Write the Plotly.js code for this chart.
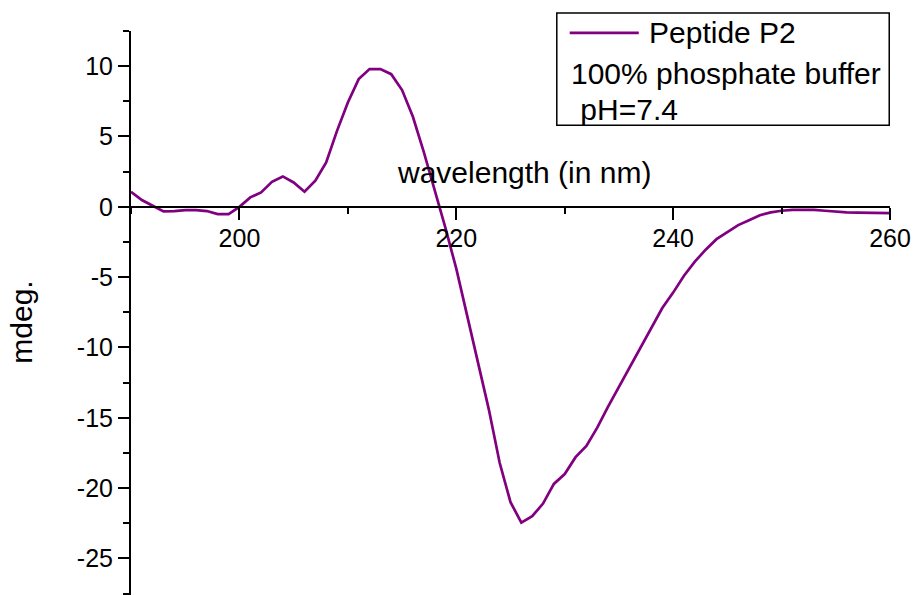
<!DOCTYPE html>
<html>
<head>
<meta charset="utf-8">
<script src="https://cdn.plot.ly/plotly-3.0.1.min.js"></script>
<style>html,body{margin:0;padding:0;background:#fff;}#chart{width:913px;height:595px;}</style>
</head>
<body>
<div id="chart"></div>
<script>
const seriesName = "Peptide P2";
const legendExtra = ["100% phosphate buffer", " pH=7.4"];
const xTitle = "wavelength (in nm)";
const yTitle = "mdeg.";

const wavelength = [190,191,192,193,194,195,196,197,198,199,
  200,201,202,203,204,205,206,207,208,209,
  210,211,212,213,214,215,216,217,218,219,
  220,221,222,223,224,225,226,227,228,229,
  230,231,232,233,234,235,236,237,238,239,
  240,241,242,243,244,245,246,247,248,249,
  250,251,252,253,254,255,256,257,258,259,260];
const mdeg = [1.07,0.48,0.08,-0.33,-0.30,-0.24,-0.24,-0.30,-0.52,-0.52,
  0.00,0.67,1.02,1.78,2.16,1.73,1.07,1.85,3.15,5.40,
  7.42,9.08,9.79,9.79,9.43,8.30,6.40,3.90,1.20,-1.50,
  -4.40,-7.70,-11.00,-14.40,-18.20,-21.00,-22.45,-22.00,-21.10,-19.70,
  -19.00,-17.80,-17.00,-15.70,-14.20,-12.80,-11.30,-9.90,-8.50,-7.20,
  -6.10,-4.90,-3.90,-3.05,-2.30,-1.80,-1.30,-0.95,-0.60,-0.40,
  -0.28,-0.22,-0.20,-0.22,-0.28,-0.35,-0.40,-0.42,-0.43,-0.44,-0.45];

const xTickVals = [200, 220, 240, 260];
const xTickText = ["200", "220", "240", "260"];
const yTickVals = [-25, -20, -15, -10, -5, 0, 5, 10];
const yTickText = ["-25", "-20", "-15", "-10", "-5", "0", "5", "10"];

const lineColor = "#800080";
const FONT = "Arial, 'Liberation Sans', sans-serif";
const yRange = [-27.6, 12.5];
const xRange = [190, 260];

const trace = {
  x: wavelength, y: mdeg, type: "scatter", mode: "lines", name: seriesName,
  line: {color: lineColor, width: 2.7}, showlegend: false, hoverinfo: "skip"
};

const layout = {
  width: 913, height: 595,
  margin: {l: 131, r: 23, t: 31, b: 0},
  paper_bgcolor: "#fff", plot_bgcolor: "#fff",
  font: {family: FONT, size: 25, color: "#000"},
  showlegend: false,
  xaxis: {
    range: xRange, anchor: "free",
    position: (0 - yRange[0]) / (yRange[1] - yRange[0]),
    tickmode: "array", tickvals: xTickVals, ticktext: xTickText,
    ticks: "outside", ticklen: 12, tickwidth: 2, tickcolor: "#000",
    minor: {dtick: 10, tick0: 200, ticks: "outside", ticklen: 6, tickwidth: 2, tickcolor: "#000", showgrid: false},
    showline: true, linewidth: 2, linecolor: "#000",
    showgrid: false, zeroline: false, ticklabelstandoff: -3,
    tickfont: {family: FONT, size: 25, color: "#000"}
  },
  yaxis: {
    range: yRange, domain: [0, 1],
    tickmode: "array", tickvals: yTickVals, ticktext: yTickText,
    ticks: "outside", ticklen: 11, tickwidth: 2, tickcolor: "#000",
    minor: {dtick: 2.5, tick0: 0, ticks: "outside", ticklen: 6, tickwidth: 2, tickcolor: "#000", showgrid: false},
    showline: true, linewidth: 2, linecolor: "#000",
    showgrid: false, zeroline: false,
    tickfont: {family: FONT, size: 25, color: "#000"}
  },
  shapes: [
    {type: "rect", xref: "paper", yref: "paper", x0: 0.561, x1: 0.999, y0: 0.833, y1: 1.032,
     line: {color: "#000", width: 1.5}, fillcolor: "rgba(0,0,0,0)"},
    {type: "line", xref: "paper", yref: "paper", x0: 0.578, x1: 0.669, y0: 0.9965, y1: 0.9965,
     line: {color: lineColor, width: 2.7}}
  ],
  annotations: [
    {text: seriesName, xref: "paper", yref: "paper", x: 0.6795, y: 0.9965, xanchor: "left", yanchor: "middle",
     showarrow: false, font: {family: FONT, size: 30, color: "#000"}},
    {text: legendExtra[0], xref: "paper", yref: "paper", x: 0.5765, y: 0.925, xanchor: "left", yanchor: "middle",
     showarrow: false, font: {family: FONT, size: 30, color: "#000"}},
    {text: legendExtra[1].replace(" ", "&nbsp;"), xref: "paper", yref: "paper", x: 0.578, y: 0.861, xanchor: "left", yanchor: "middle",
     showarrow: false, font: {family: FONT, size: 30, color: "#000"}},
    {text: xTitle, xref: "x", yref: "y", x: 226.2, y: 2.47, xanchor: "center", yanchor: "middle",
     showarrow: false, font: {family: FONT, size: 30, color: "#000"}},
    {text: yTitle, xref: "paper", yref: "paper", x: -0.1435, y: 0.483, xanchor: "center", yanchor: "middle",
     textangle: -90, showarrow: false, font: {family: FONT, size: 30, color: "#000"}}
  ]
};

Plotly.newPlot("chart", [trace], layout, {displayModeBar: false, staticPlot: true});
</script>
</body>
</html>
